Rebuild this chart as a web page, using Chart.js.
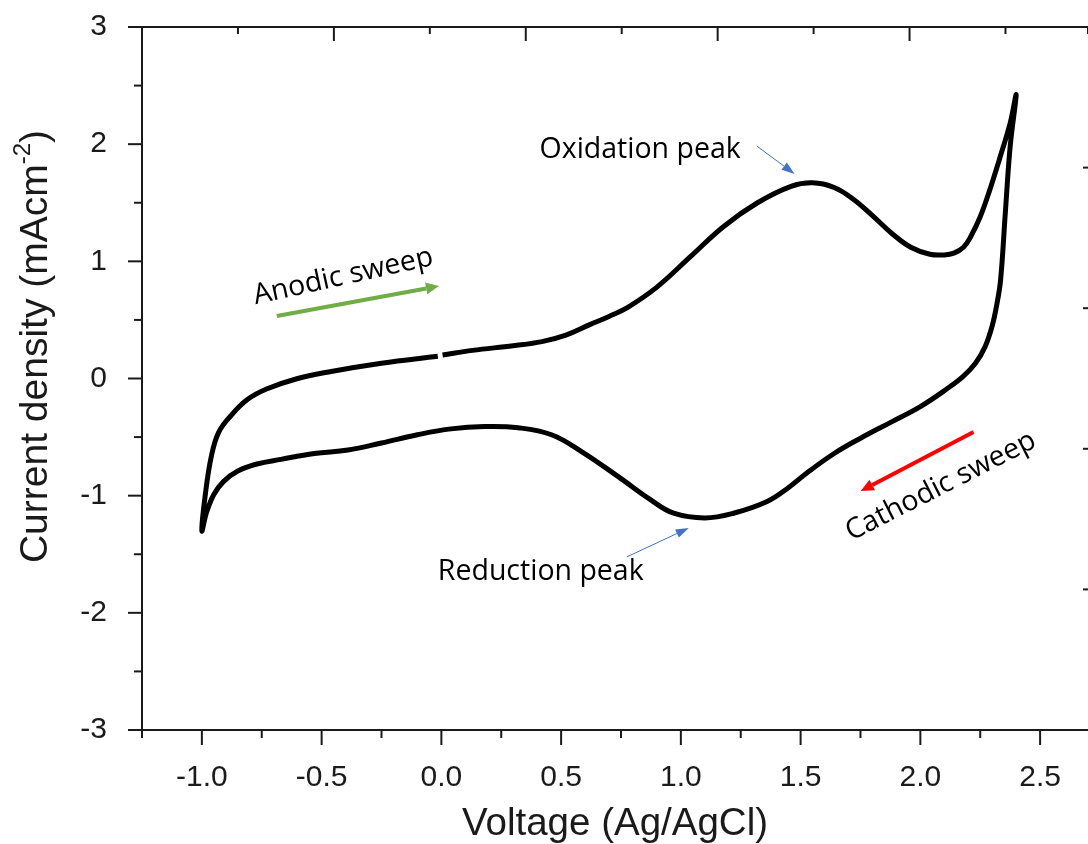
<!DOCTYPE html>
<html>
<head>
<meta charset="utf-8">
<script src="https://cdn.jsdelivr.net/npm/chart.js@4.4.1/dist/chart.umd.min.js"></script>
<style>
  html, body { margin: 0; padding: 0; background: #fff; overflow: hidden; }
  canvas { display: block; }
</style>
</head>
<body>
<canvas id="cv" width="1088" height="844"></canvas>
<script>
// CV loop: starts at 0 V, anodic sweep up to 2.4 V, cathodic back to -1.0 V, then up to 0 V again
const voltage = [
  0.005, 0.13, 0.30, 0.42, 0.52, 0.62, 0.70, 0.78, 0.90, 1.04, 1.18, 1.32, 1.46, 1.55, 1.64,
  1.72, 1.80, 1.88, 1.96, 2.04, 2.10, 2.14, 2.18, 2.21, 2.25, 2.29, 2.33, 2.375, 2.40,
  2.375, 2.355, 2.335, 2.32, 2.30, 2.27, 2.23, 2.18, 2.11, 2.00, 1.88, 1.75, 1.64, 1.53, 1.45,
  1.36, 1.22, 1.10, 0.97, 0.87, 0.74, 0.59, 0.46, 0.32, 0.18, 0.04, -0.10, -0.25, -0.39,
  -0.53, -0.67, -0.77, -0.85, -0.91, -0.95, -0.98, -1.00,
  -0.985, -0.96, -0.93, -0.88, -0.81, -0.73, -0.60, -0.46, -0.25, -0.015
];
const current = [
  0.20, 0.24, 0.28, 0.315, 0.37, 0.46, 0.53, 0.61, 0.78, 1.04, 1.30, 1.50, 1.64, 1.67, 1.63,
  1.53, 1.39, 1.24, 1.12, 1.06, 1.055, 1.07, 1.12, 1.21, 1.38, 1.61, 1.87, 2.18, 2.42,
  1.98, 1.42, 0.84, 0.64, 0.45, 0.27, 0.13, 0.02, -0.09, -0.24, -0.37, -0.51, -0.64, -0.80, -0.93,
  -1.05, -1.15, -1.19, -1.15, -1.03, -0.84, -0.63, -0.48, -0.42, -0.41, -0.43, -0.48, -0.55, -0.61,
  -0.64, -0.69, -0.73, -0.79, -0.88, -0.99, -1.14, -1.30,
  -0.98, -0.66, -0.46, -0.32, -0.18, -0.09, 0.00, 0.06, 0.13, 0.19
];

const xTickValues = [-1.0, -0.5, 0.0, 0.5, 1.0, 1.5, 2.0, 2.5];
const xTickLabels = ['-1.0', '-0.5', '0.0', '0.5', '1.0', '1.5', '2.0', '2.5'];
const yTickValues = [-3, -2, -1, 0, 1, 2, 3];
const yTickLabels = ['-3', '-2', '-1', '0', '1', '2', '3'];

// text notes and arrows, placed in axis units
const notes = [
  { text: 'Oxidation peak', x: 0.83, y: 1.95, angle: 0 },
  { text: 'Reduction peak', x: 0.415, y: -1.65, angle: 0 },
  { text: 'Anodic sweep', x: -0.41, y: 0.87, angle: -12.5 },
  { text: 'Cathodic sweep', x: 2.085, y: -0.92, angle: -27 }
];
const arrows = [
  { from: [1.317, 1.984], to: [1.475, 1.746], color: '#4472c4', width: 1, head: 13, headW: 9 },
  { from: [0.774, -1.523], to: [1.033, -1.276], color: '#4472c4', width: 1, head: 13, headW: 9 },
  { from: [-0.687, 0.533], to: [-0.01, 0.789], color: '#70ad47', width: 4, head: 13, headW: 12 },
  { from: [2.222, -0.457], to: [1.751, -0.96], color: '#ff0000', width: 4, head: 13, headW: 12 }
];

const axisFont = 'Liberation Sans, Arial, sans-serif';
const ink = '#1a1a1a';

function labelFor(values, labels, v) {
  const i = values.findIndex(t => Math.abs(t - v) < 1e-6);
  return i < 0 ? '' : labels[i];
}

const frame = {
  id: 'frame',
  afterDraw(chart) {
    const { ctx, chartArea: a, scales } = chart;
    ctx.save();
    ctx.strokeStyle = ink;
    ctx.lineWidth = 2;
    const seg = (x1, y1, x2, y2) => { ctx.beginPath(); ctx.moveTo(x1, y1); ctx.lineTo(x2, y2); ctx.stroke(); };

    seg(a.left - 1, a.top, a.right + 2, a.top);

    scales.x.ticks.forEach(t => {
      const q = t.value / 0.25;
      if (Math.abs(q - Math.round(q)) > 1e-6) return;
      const px = scales.x.getPixelForValue(t.value);
      const len = Math.abs(t.value * 2 - Math.round(t.value * 2)) < 1e-6 ? 15 : 8;
      seg(px, a.bottom, px, a.bottom + len);
    });
    scales.y.ticks.forEach(t => {
      const py = scales.y.getPixelForValue(t.value);
      const len = Number.isInteger(t.value) ? 14 : 8;
      seg(a.left - len, py, a.left, py);
    });
    scales.x2.ticks.forEach(t => {
      if (t.value === 0) return;
      const px = scales.x2.getPixelForValue(t.value);
      const len = t.value % 2 === 0 ? 14 : 7;
      seg(px, a.top, px, a.top + len);
    });
    scales.y2.ticks.forEach(t => {
      if (t.value === 0 || t.value === 5) return;
      const py = scales.y2.getPixelForValue(t.value);
      seg(a.right - 5, py, a.right, py);
    });

    // y title with superscript
    ctx.fillStyle = ink;
    ctx.translate(36, (a.top + a.bottom) / 2 - 32);
    ctx.rotate(-Math.PI / 2);
    ctx.textBaseline = 'middle';
    const main = 'Current density (mAcm';
    const sup = '-2';
    ctx.font = '39px ' + axisFont;
    const w1 = ctx.measureText(main).width;
    const w3 = ctx.measureText(')').width;
    ctx.font = '24px ' + axisFont;
    const w2 = ctx.measureText(sup).width;
    const x0 = -(w1 + w2 + w3) / 2;
    ctx.textAlign = 'left';
    ctx.font = '39px ' + axisFont;
    ctx.fillText(main, x0, 0);
    ctx.font = '24px ' + axisFont;
    ctx.fillText(sup, x0 + w1, -13);
    ctx.font = '39px ' + axisFont;
    ctx.fillText(')', x0 + w1 + w2, 0);
    ctx.restore();

    // notes and arrows
    ctx.save();
    arrows.forEach(ar => {
      const x1 = scales.x.getPixelForValue(ar.from[0]), y1 = scales.y.getPixelForValue(ar.from[1]);
      const x2 = scales.x.getPixelForValue(ar.to[0]), y2 = scales.y.getPixelForValue(ar.to[1]);
      const ang = Math.atan2(y2 - y1, x2 - x1);
      const bx = x2 - ar.head * Math.cos(ang), by = y2 - ar.head * Math.sin(ang);
      ctx.strokeStyle = ar.color;
      ctx.fillStyle = ar.color;
      ctx.lineWidth = ar.width;
      ctx.beginPath(); ctx.moveTo(x1, y1); ctx.lineTo(bx, by); ctx.stroke();
      ctx.beginPath();
      ctx.moveTo(x2, y2);
      ctx.lineTo(bx + ar.headW / 2 * Math.sin(ang), by - ar.headW / 2 * Math.cos(ang));
      ctx.lineTo(bx - ar.headW / 2 * Math.sin(ang), by + ar.headW / 2 * Math.cos(ang));
      ctx.closePath();
      ctx.fill();
    });
    ctx.fillStyle = '#000';
    ctx.font = '28.5px "Open Sans", sans-serif';
    ctx.textAlign = 'center';
    ctx.textBaseline = 'middle';
    notes.forEach(n => {
      ctx.save();
      ctx.translate(scales.x.getPixelForValue(n.x), scales.y.getPixelForValue(n.y));
      ctx.rotate(n.angle * Math.PI / 180);
      ctx.fillText(n.text, 0, 0);
      ctx.restore();
    });
    ctx.restore();
  }
};

new Chart(document.getElementById('cv'), {
  type: 'scatter',
  data: {
    datasets: [{
      data: voltage.map((v, i) => ({ x: v, y: current[i] })),
      showLine: true,
      borderColor: '#000',
      borderWidth: 5,
      borderCapStyle: 'butt',
      borderJoinStyle: 'round',
      pointRadius: 0,
      tension: 0.4
    }]
  },
  options: {
    responsive: false,
    animation: false,
    layout: { autoPadding: false, padding: { top: 27, right: 0, bottom: 0, left: 0 } },
    plugins: { legend: { display: false }, tooltip: { enabled: false } },
    scales: {
      x: {
        type: 'linear', position: 'bottom', min: -1.25, max: 2.70,
        afterFit: s => { s.height = 114; s.paddingLeft = 0; s.paddingRight = 0; },
        border: { display: true, color: ink, width: 2 },
        grid: { display: false },
        ticks: {
          stepSize: 0.25, autoSkip: false, includeBounds: false, maxRotation: 0, padding: 22, color: ink,
          font: { family: axisFont, size: 30 },
          callback: v => labelFor(xTickValues, xTickLabels, v)
        },
        title: {
          display: true, text: 'Voltage (Ag/AgCl)', color: ink, padding: 0,
          font: { family: axisFont, size: 38.5, lineHeight: 1 }
        }
      },
      y: {
        type: 'linear', position: 'left', min: -3, max: 3,
        afterFit: s => { s.width = 142; s.paddingTop = 0; s.paddingBottom = 0; },
        border: { display: true, color: ink, width: 2 },
        grid: { display: false },
        ticks: {
          stepSize: 0.5, autoSkip: false, padding: 27, color: ink,
          font: { family: axisFont, size: 30 },
          callback: v => labelFor(yTickValues, yTickLabels, v)
        }
      },
      x2: { type: 'linear', position: 'top', display: false, min: 0, max: 9.86, ticks: { stepSize: 1 } },
      y2: { type: 'linear', position: 'right', display: false, min: 0, max: 5, ticks: { stepSize: 1 } }
    }
  },
  plugins: [frame]
});
</script>
</body>
</html>
